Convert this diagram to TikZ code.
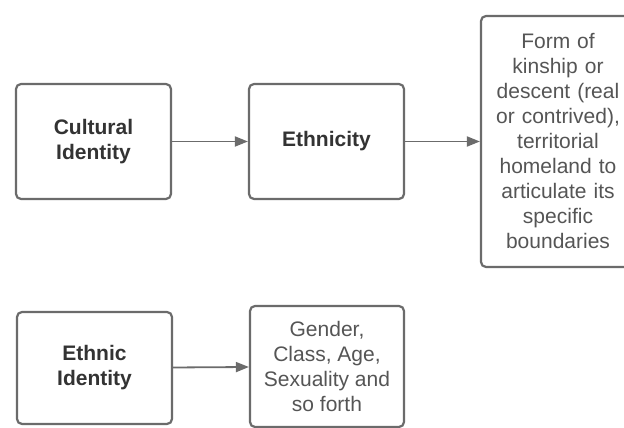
\documentclass[tikz,border=0pt]{standalone}
\usepackage{fontspec}
\setmainfont{Liberation Sans}
\usetikzlibrary{arrows.meta}
\definecolor{edgegray}{HTML}{6B6B6B}
\definecolor{boldtext}{HTML}{333333}
\definecolor{plaintext}{HTML}{555555}
\begin{document}
\begin{tikzpicture}[x=1pt,y=1pt,
  box/.style={draw=edgegray, line width=2.2pt, rounded corners=5pt, fill=white,
    align=center, inner sep=0pt, font=\fontsize{21}{25}\selectfont},
  title/.style={box, text=boldtext, font=\fontsize{21}{25}\selectfont\bfseries},
  plain/.style={box, text=plaintext},
  link/.style={draw=edgegray, line width=1.8pt, -{Triangle[length=13pt,width=10pt]}}]
\useasboundingbox (0,0) rectangle (624,428);
\clip (0,0) rectangle (624,428);
\node[title, minimum width=155pt, minimum height=115pt] (cult) at (93.5,286.5) {Cultural\\Identity};
\node[title, minimum width=155pt, minimum height=115pt] (eth) at (326.5,286.5) {Ethnicity};
\node[plain, minimum width=154pt, minimum height=251pt, text width=150pt] (form) at (558,286.5) {Form of\\kinship or\\descent (real\\or contrived),\\territorial\\homeland to\\articulate its\\specific\\boundaries};
\node[title, minimum width=155pt, minimum height=112pt] (ethid) at (94.5,60) {Ethnic\\Identity};
\node[plain, minimum width=154pt, minimum height=121pt] (gen) at (327,61.5) {Gender,\\Class, Age,\\Sexuality and\\so forth};
\draw[link] (cult) -- (eth);
\draw[link] (eth) -- (form);
\draw[link] (ethid) -- (gen);
\end{tikzpicture}
\end{document}
